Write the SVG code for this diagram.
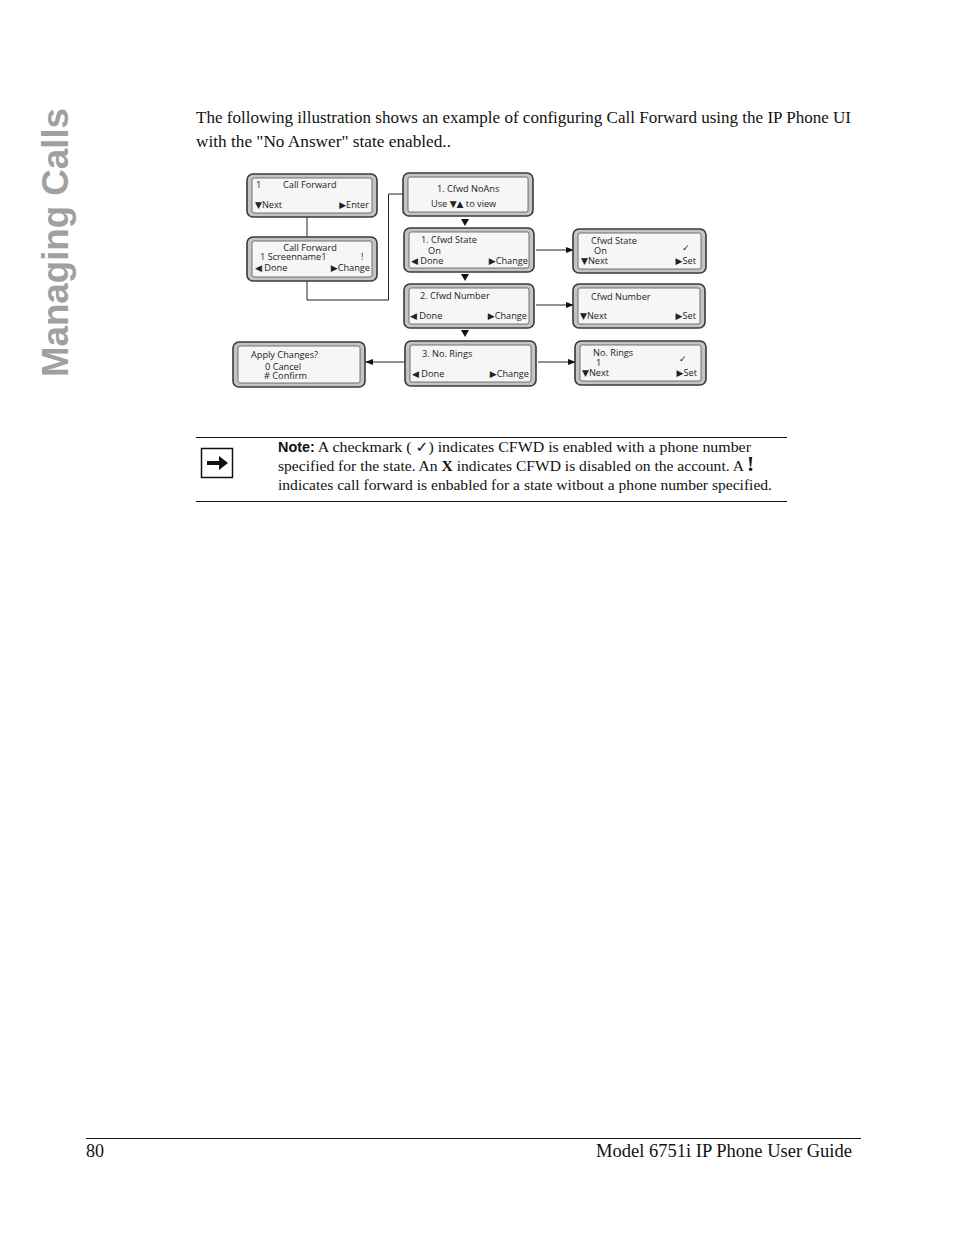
<svg xmlns="http://www.w3.org/2000/svg" width="954" height="1235" viewBox="0 0 954 1235">
<defs>
<style>
.outer{fill:#c4c4c4;stroke:#3a3a3a;stroke-width:1.6}
.inner{fill:#f6f6f6;stroke:#555;stroke-width:0.8}
.t{font-family:"Open Sans","Liberation Sans",sans-serif;font-size:9.2px;fill:#222}
.g{font-family:"DejaVu Sans",sans-serif;font-size:9px}
.body{font-family:"Liberation Serif",serif;font-size:16.5px;fill:#111}
.note{font-family:"Liberation Serif",serif;font-size:15.5px;fill:#111}
.conn{fill:none;stroke:#222;stroke-width:1}
</style>
<marker id="ah" viewBox="0 0 10 10" refX="9" refY="5" markerWidth="8" markerHeight="8" markerUnits="userSpaceOnUse" orient="auto">
<path d="M0,1 L10,5 L0,9 z" fill="#111"/>
</marker>
</defs>
<rect width="954" height="1235" fill="#fff"/>

<text transform="translate(68,377) rotate(-90)" font-family="Liberation Sans,Arial,sans-serif" font-weight="bold" font-size="37" fill="#a0a0a0" textLength="269" lengthAdjust="spacingAndGlyphs">Managing Calls</text>

<text class="body" x="196" y="123" textLength="655" lengthAdjust="spacingAndGlyphs">The following illustration shows an example of configuring Call Forward using the IP Phone UI</text>
<text class="body" x="196" y="147" textLength="255" lengthAdjust="spacingAndGlyphs">with the "No Answer" state enabled..</text>

<g id="connectors">
<path class="conn" d="M307,217 V237"/>
<path class="conn" d="M307,281 V300 H388.5 V194 H403"/>
<polygon points="461,219 469,219 465,226" fill="#111"/>
<polygon points="461,274 469,274 465,281" fill="#111"/>
<polygon points="461,330 469,330 465,337" fill="#111"/>
<path class="conn" d="M536,250 H573" marker-end="url(#ah)"/>
<path class="conn" d="M536,305 H573" marker-end="url(#ah)"/>
<path class="conn" d="M538,362 H575" marker-end="url(#ah)"/>
<path class="conn" d="M405,362 H366" marker-end="url(#ah)"/>
</g>

<g id="n1">
<rect class="outer" x="247" y="174" width="130" height="43" rx="6"/>
<rect class="inner" x="252" y="178" width="120" height="35" rx="2"/>
<text class="t" x="256" y="188">1</text>
<text class="t" x="283" y="188">Call Forward</text>
<text class="t" x="255" y="208"><tspan class="g">▼</tspan>Next</text>
<text class="t" x="369" y="208" text-anchor="end"><tspan class="g">▶</tspan>Enter</text>
</g>

<g id="n2">
<rect class="outer" x="247" y="237" width="130" height="44" rx="6"/>
<rect class="inner" x="252" y="241" width="120" height="36" rx="2"/>
<text class="t" x="310" y="251" text-anchor="middle">Call Forward</text>
<text class="t" x="260" y="260">1 Screenname1</text>
<text class="t" x="361" y="260">!</text>
<text class="t" x="255" y="271"><tspan class="g">◀</tspan> Done</text>
<text class="t" x="370" y="271" text-anchor="end"><tspan class="g">▶</tspan>Change</text>
</g>

<g id="n3">
<rect class="outer" x="403" y="173" width="130" height="43" rx="6"/>
<rect class="inner" x="408" y="177" width="120" height="35" rx="2"/>
<text class="t" x="437" y="192">1. Cfwd NoAns</text>
<text class="t" x="431" y="207">Use <tspan class="g">▼▲</tspan> to view</text>
</g>

<g id="n4">
<rect class="outer" x="404" y="228" width="130" height="44" rx="6"/>
<rect class="inner" x="409" y="232" width="120" height="36" rx="2"/>
<text class="t" x="421" y="242.5">1. Cfwd State</text>
<text class="t" x="428" y="253.5">On</text>
<text class="t" x="411" y="263.5"><tspan class="g">◀</tspan> Done</text>
<text class="t" x="528" y="263.5" text-anchor="end"><tspan class="g">▶</tspan>Change</text>
</g>

<g id="n5">
<rect class="outer" x="404" y="284" width="130" height="44" rx="6"/>
<rect class="inner" x="409" y="288" width="120" height="36" rx="2"/>
<text class="t" x="420" y="299">2. Cfwd Number</text>
<text class="t" x="410" y="319"><tspan class="g">◀</tspan> Done</text>
<text class="t" x="527" y="319" text-anchor="end"><tspan class="g">▶</tspan>Change</text>
</g>

<g id="n6">
<rect class="outer" x="405" y="341" width="131" height="45" rx="6"/>
<rect class="inner" x="410" y="345" width="121" height="37" rx="2"/>
<text class="t" x="422" y="357">3. No. Rings</text>
<text class="t" x="412" y="377"><tspan class="g">◀</tspan> Done</text>
<text class="t" x="529" y="377" text-anchor="end"><tspan class="g">▶</tspan>Change</text>
</g>

<g id="r1">
<rect class="outer" x="573" y="229" width="133" height="44" rx="6"/>
<rect class="inner" x="578" y="233" width="123" height="36" rx="2"/>
<text class="t" x="591" y="243.5">Cfwd State</text>
<text class="t" x="594" y="253.5">On</text>
<text class="t" x="682" y="251">✓</text>
<text class="t" x="581" y="264"><tspan class="g">▼</tspan>Next</text>
<text class="t" x="696" y="264" text-anchor="end"><tspan class="g">▶</tspan>Set</text>
</g>

<g id="r2">
<rect class="outer" x="573" y="284" width="132" height="44" rx="6"/>
<rect class="inner" x="578" y="288" width="122" height="36" rx="2"/>
<text class="t" x="591" y="300">Cfwd Number</text>
<text class="t" x="580" y="319"><tspan class="g">▼</tspan>Next</text>
<text class="t" x="696" y="319" text-anchor="end"><tspan class="g">▶</tspan>Set</text>
</g>

<g id="r3">
<rect class="outer" x="575" y="341" width="131" height="44" rx="6"/>
<rect class="inner" x="580" y="345" width="121" height="36" rx="2"/>
<text class="t" x="593" y="355.5">No. Rings</text>
<text class="t" x="596" y="365.5">1</text>
<text class="t" x="679" y="362">✓</text>
<text class="t" x="582" y="376"><tspan class="g">▼</tspan>Next</text>
<text class="t" x="697" y="376" text-anchor="end"><tspan class="g">▶</tspan>Set</text>
</g>

<g id="apply">
<rect class="outer" x="233" y="342" width="132" height="45" rx="6"/>
<rect class="inner" x="238" y="346" width="122" height="37" rx="2"/>
<text class="t" x="251" y="357.5">Apply Changes?</text>
<text class="t" x="265" y="369.5">0 Cancel</text>
<text class="t" x="264" y="378.5"># Confirm</text>
</g>

<g id="note">
<line x1="196" y1="437.5" x2="787" y2="437.5" stroke="#111" stroke-width="1"/>
<line x1="196" y1="501.5" x2="787" y2="501.5" stroke="#111" stroke-width="1"/>
<rect x="201.5" y="448.5" width="31" height="29" fill="#fff" stroke="#111" stroke-width="1.5"/>
<path d="M207,461 H219 V456 L228,463 L219,470 V465 H207 z" fill="#111"/>
<text class="note" x="278" y="452" textLength="473" lengthAdjust="spacingAndGlyphs"><tspan font-family="Liberation Sans,Arial,sans-serif" font-weight="bold" font-size="14">Note:</tspan> A checkmark ( <tspan font-family="DejaVu Sans,sans-serif" font-weight="bold" font-size="15">✓</tspan>) indicates CFWD is enabled with a phone number</text>
<text class="note" x="278" y="471" textLength="476" lengthAdjust="spacingAndGlyphs">specified for the state. An <tspan font-weight="bold">X</tspan> indicates CFWD is disabled on the account. A <tspan font-weight="bold" font-size="21">!</tspan></text>
<text class="note" x="278" y="490" textLength="494" lengthAdjust="spacingAndGlyphs">indicates call forward is enbabled for a state witbout a phone number specified.</text>
</g>

<g id="footer">
<line x1="86" y1="1138.5" x2="861" y2="1138.5" stroke="#111" stroke-width="1"/>
<text x="86" y="1157" font-family="Liberation Serif,serif" font-size="18" fill="#111">80</text>
<text x="596" y="1157" font-family="Liberation Serif,serif" font-size="18" fill="#111" textLength="256" lengthAdjust="spacingAndGlyphs">Model 6751i IP Phone User Guide</text>
</g>
</svg>
